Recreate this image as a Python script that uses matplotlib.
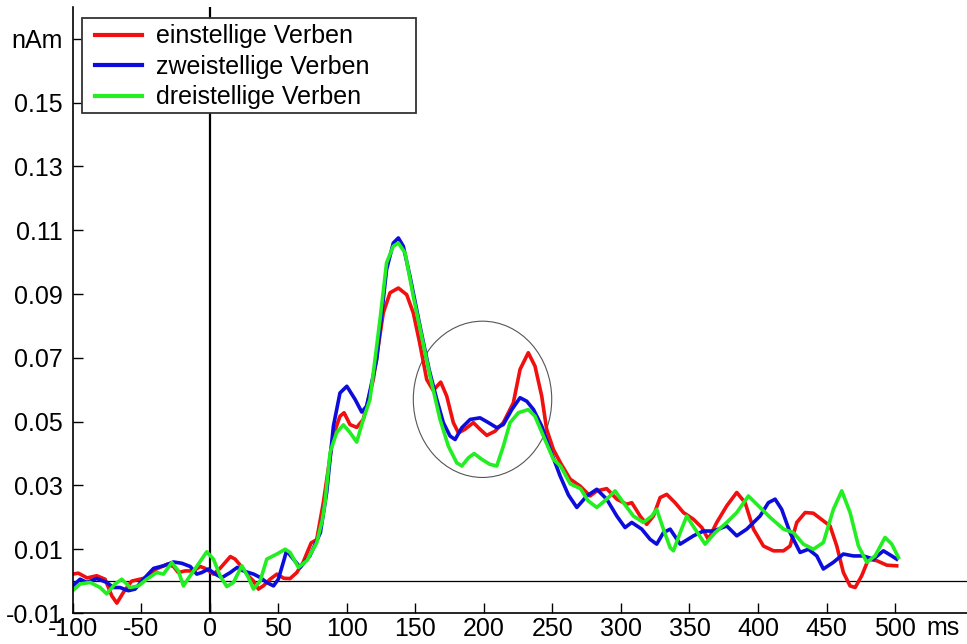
import matplotlib.pyplot as plt
from matplotlib.patches import Ellipse, Rectangle

plt.rcParams["font.family"] = ["Liberation Sans", "DejaVu Sans"]

# (time in ms, amplitude in nAm)
t_ein = [-100, -95.9, -89.5, -82.5, -76.4, -71.5, -67.8, -63, -57, -51, -46, -39, -31,
         -26.5, -23, -18, -12, -7, -3.4, 2.7, 7.5, 15, 18.5, 23, 28, 32, 35.5, 39, 44,
         49, 54, 58.6, 63.5, 68, 74, 78, 82.9, 90, 95, 98, 102.3, 107.2, 112, 119.3,
         126.6, 131.5, 137.6, 143.7, 148.5, 153, 158.3, 163, 168.5, 172.9, 177.7, 181.4,
         186.2, 192.3, 197.2, 202.1, 208.1, 214.2, 221.5, 226.4, 232.4, 237.3, 242.2,
         245.8, 250.7, 256, 262.9, 270.2, 277.5, 282.4, 289.6, 297, 304.2, 307.9, 314,
         318.8, 323.7, 328.6, 333.4, 339.5, 345.6, 352.9, 359, 363.8, 369.9, 377.2,
         384.5, 390.6, 396.7, 404, 411.3, 418.6, 423.4, 428.3, 434.4, 440.4, 447.7,
         452.6, 457.5, 462.3, 467.2, 470.9, 475.7, 480.6, 486.7, 494, 501.2]
v_ein = [0.0022, 0.0025, 0.001, 0.0017, 0.0006, -0.0046, -0.0069, -0.0035, 0.0, 0.0006,
         0.0011, 0.0038, 0.0053, 0.0046, 0.0027, 0.0032, 0.0032, 0.0046, 0.004, 0.0022,
         0.004, 0.0077, 0.0069, 0.0046, 0.0017, 0.0, -0.0025, -0.0015, 0.0006, 0.0022,
         0.0009, 0.0008, 0.0027, 0.0058, 0.012, 0.013, 0.0247, 0.0455, 0.0517, 0.0528,
         0.0491, 0.0482, 0.0507, 0.0632, 0.0841, 0.0904, 0.0919, 0.0898, 0.0841, 0.075,
         0.0632, 0.0598, 0.0624, 0.058, 0.0497, 0.0465, 0.0476, 0.0497, 0.0476, 0.0457,
         0.047, 0.0497, 0.0559, 0.0664, 0.0716, 0.0674, 0.058, 0.0476, 0.0413, 0.037,
         0.032, 0.0298, 0.0267, 0.0283, 0.029, 0.0257, 0.0241, 0.0246, 0.0204, 0.0178,
         0.0204, 0.0262, 0.0272, 0.0246, 0.0215, 0.0194, 0.0168, 0.0131, 0.0184, 0.0236,
         0.0278, 0.0246, 0.0163, 0.011, 0.0095, 0.0095, 0.011, 0.0184, 0.0215, 0.0213,
         0.0189, 0.0173, 0.011, 0.0027, -0.0015, -0.002, 0.0017, 0.0069, 0.0064, 0.005,
         0.0048]

t_zwei = [-100, -94.6, -89.7, -82.5, -75.2, -70.3, -65.5, -59.4, -54.5, -48.4, -41, -33.8,
          -26.5, -20.4, -14.3, -9.5, -5.8, -1, 4, 8.8, 15, 20, 24.5, 32, 37, 41.5, 46.5,
          50, 54, 56, 61, 66, 73, 78, 80.7, 85.3, 90.2, 95, 100, 106, 110.9, 114.5, 121.8,
          129, 133.9, 137.6, 141.2, 146.1, 153.4, 160, 165.6, 170.4, 175.3, 179, 183.9,
          190, 197.2, 203.3, 209.4, 214.2, 220.4, 226.4, 231.3, 236.2, 242.2, 248.3,
          255.6, 261.7, 267.8, 275.1, 282.4, 289.6, 297, 303, 307.9, 315.2, 321.3, 326.1,
          331, 335.9, 343.2, 352.9, 360.2, 367.5, 377.2, 384.5, 391.8, 401.5, 407.6,
          412.5, 417.3, 423.4, 430.7, 436.8, 442.9, 447.7, 455, 462.3, 469.6, 476.9,
          484.2, 491.5, 497.6, 501.2]
v_zwei = [-0.0015, 0.0006, -0.0004, 0.0008, -0.0004, -0.002, -0.002, -0.003, -0.0025,
          0.0006, 0.004, 0.0048, 0.006, 0.0056, 0.0046, 0.0022, 0.0027, 0.0038, 0.0022,
          0.0011, 0.0027, 0.0043, 0.0032, 0.0022, 0.0011, -0.0004, -0.0015, 0.0006,
          0.0064, 0.0095, 0.0069, 0.0043, 0.0079, 0.0126, 0.0152, 0.0278, 0.0486, 0.059,
          0.0611, 0.057, 0.053, 0.0549, 0.0695, 0.0977, 0.106, 0.1076, 0.105, 0.0955,
          0.0799, 0.0664, 0.057, 0.0497, 0.0455, 0.0444, 0.0481, 0.0507, 0.0512, 0.0497,
          0.0481, 0.0491, 0.0538, 0.0575, 0.0564, 0.0538, 0.0486, 0.0413, 0.033, 0.027,
          0.0231, 0.0267, 0.0288, 0.0257, 0.0204, 0.0168, 0.0184, 0.0163, 0.0131, 0.0116,
          0.0152, 0.0163, 0.0116, 0.0142, 0.0157, 0.0157, 0.0173, 0.0142, 0.0163, 0.0204,
          0.0246, 0.0257, 0.0225, 0.0152, 0.009, 0.01, 0.0079, 0.0038, 0.0059, 0.0085,
          0.0079, 0.0079, 0.0069, 0.0095, 0.0079, 0.0069]

t_drei = [-100, -94.6, -87.3, -80, -75.2, -69.1, -64.2, -58.1, -52, -46, -38.7, -33.8,
          -27.7, -22.9, -19.2, -14.3, -9.5, -2.2, 2.7, 7.5, 12.4, 17.3, 23.4, 28.2, 31.9,
          36.8, 41.6, 49, 55, 58.6, 64.7, 70.8, 78, 82, 84.1, 87.8, 92.6, 97.5, 102.3,
          107.2, 112, 116.9, 124.2, 129, 133.9, 137.6, 142.5, 148.5, 154.6, 160.7, 168,
          174.1, 180.2, 183.9, 188.8, 192.9, 198.4, 204.5, 209.4, 214.2, 219.1, 225.2,
          232.4, 237.3, 243.4, 250.7, 256, 263, 270.5, 276, 282.4, 289.6, 295.7, 301.8,
          309.1, 316.4, 322.5, 326.1, 331, 335.9, 338.3, 343.2, 348, 354.1, 361.4, 368.7,
          377.2, 384.5, 393, 400.3, 408.8, 418.6, 425.9, 433.1, 440.4, 447.7, 455, 461.1,
          467.2, 473.3, 479.4, 485.4, 492.7, 497.6, 502.5]
v_drei = [-0.003, -0.0009, -0.0004, -0.002, -0.004, -0.0009, 0.0006, -0.002, -0.0015,
          0.0006, 0.0027, 0.0022, 0.0058, 0.0032, -0.0015, 0.0017, 0.0046, 0.0092, 0.0069,
          0.0017, -0.0017, -0.0004, 0.0048, 0.0011, -0.0025, 0.0001, 0.0069, 0.0085, 0.01,
          0.009, 0.0043, 0.0064, 0.012, 0.019, 0.0247, 0.0404, 0.0466, 0.049, 0.0466,
          0.0436, 0.0507, 0.057, 0.082, 0.0998, 0.105, 0.106, 0.1029, 0.0893, 0.0768,
          0.0643, 0.0507, 0.0423, 0.0371, 0.0361, 0.0387, 0.04, 0.0382, 0.0366, 0.0361,
          0.0423, 0.0497, 0.0528, 0.0538, 0.0517, 0.0455, 0.0382, 0.036, 0.0305, 0.029,
          0.0252, 0.0231, 0.0257, 0.0283, 0.0246, 0.0204, 0.0184, 0.0204, 0.0225, 0.0163,
          0.0105, 0.0095, 0.0152, 0.0204, 0.0163, 0.0116, 0.0152, 0.0184, 0.0215, 0.0267,
          0.0236, 0.02, 0.0163, 0.0152, 0.0116, 0.01, 0.0121, 0.0225, 0.0283, 0.0215,
          0.011, 0.0059, 0.0079, 0.0137, 0.0116, 0.0074]

labels = ["einstellige Verben", "zweistellige Verben", "dreistellige Verben"]
xticks = [-100, -50, 0, 50, 100, 150, 200, 250, 300, 350, 400, 450, 500]
yticks = [-0.01, 0.01, 0.03, 0.05, 0.07, 0.09, 0.11, 0.13, 0.15, 0.17]
ytick_labels = ["-0.01", "0.01", "0.03", "0.05", "0.07", "0.09", "0.11", "0.13", "0.15", "nAm"]

fig = plt.figure(figsize=(9.67, 6.44), dpi=100)
ax = fig.add_axes([0.0752, 0.0481, 0.9248, 0.941])

ax.plot(t_ein, v_ein, color="#f01010", lw=2.6, label=labels[0])
ax.plot(t_zwei, v_zwei, color="#0c0cdc", lw=2.6, label=labels[1])
ax.plot(t_drei, v_drei, color="#22ee22", lw=2.6, label=labels[2])

ax.axhline(0, color="black", lw=0.9, zorder=1)
ax.axvline(0, color="black", lw=1.6, zorder=1)

# circle around the 180-240 ms window
ax.add_patch(Ellipse((199, 0.057), 101, 0.049, fill=False, edgecolor="#555555", lw=0.8))

ax.set_xlim(-100, 552.5)
ax.set_ylim(-0.01, 0.18)
ax.set_xticks(xticks)
ax.set_xticklabels([str(x) for x in xticks])
ax.set_yticks(yticks)
ax.set_yticklabels(ytick_labels)
ax.tick_params(direction="in", length=7, width=1, labelsize=18, colors="black")
ax.tick_params(axis="x", pad=3)
ax.tick_params(axis="y", pad=7)
ax.annotate("ms", xy=(500, 0), xycoords=("data", "axes fraction"), xytext=(31, -3),
            textcoords="offset pixels", ha="left", va="top", fontsize=18)

for s in ["top", "right"]:
    ax.spines[s].set_visible(False)
ax.spines["left"].set_linewidth(1.2)
ax.spines["bottom"].set_linewidth(1.2)

# legend box drawn separately so it can be wider than its contents
ax.add_patch(Rectangle((0.0104, 0.8251), 0.3735, 0.1568, transform=ax.transAxes,
                       facecolor="white", edgecolor="#333333", lw=1.3, zorder=5))
leg = ax.legend(loc="upper left", bbox_to_anchor=(0.0249, 0.9712), fontsize=18,
                frameon=False, handlelength=1.88, handletextpad=0.56,
                labelspacing=0.26, borderpad=0, borderaxespad=0)
leg.set_zorder(6)
for line in leg.get_lines():
    line.set_linewidth(3)

fig.savefig("out.png", dpi=100)
